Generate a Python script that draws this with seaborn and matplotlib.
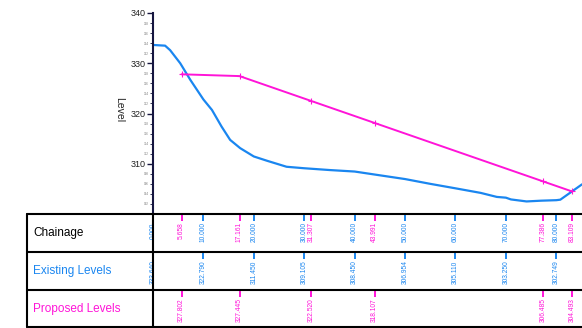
import numpy as np
import pandas as pd
import matplotlib
matplotlib.use("Agg")
import matplotlib.pyplot as plt
from matplotlib.lines import Line2D
import seaborn as sns

# Existing ground profile (chainage, level)
existing_chainage = [0, 2.4, 3.4, 5.4, 7.4, 10, 11.7, 13.6, 15.3, 17.3, 20, 22.6, 26.5,
                     30, 35, 40, 45, 50, 55, 60, 65, 68.2, 70, 71, 74.1, 77, 80, 80.8, 85.1]
existing_level = [333.64, 333.5, 332.6, 330.0, 326.7, 322.79, 320.7, 317.4, 314.75, 313.1,
                  311.45, 310.6, 309.4, 309.105, 308.75, 308.45, 307.7, 306.954, 306.0,
                  305.11, 304.2, 303.4, 303.25, 302.9, 302.5, 302.65, 302.749, 302.85, 305.9]

# Existing levels reported at the regular stations
station_chainage = [0, 10, 20, 30, 40, 50, 60, 70, 80]
station_level = [333.64, 322.79, 311.45, 309.105, 308.45, 306.954, 305.11, 303.25, 302.749]

# Proposed vertical alignment
proposed_chainage = [5.658, 17.161, 31.307, 43.991, 77.386, 83.109]
proposed_level = [327.802, 327.445, 322.520, 318.107, 306.485, 304.493]

row_titles = ["Chainage", "Existing Levels", "Proposed Levels"]

BLUE = "#1a86f0"
PINK = "#ff14d8"
DARK = "#15153f"

sns.set_style("white")
plt.rcParams["font.family"] = ["Liberation Sans", "DejaVu Sans"]

W, H = 582, 328
fig = plt.figure(figsize=(W / 100, H / 100), dpi=100)

def fx(px):
    return px / W

def fy(py):
    return 1 - py / H

XMAX = 85.1
x_left, y_top, y_bot = 153, 13, 214

ax = fig.add_axes([fx(x_left), fy(y_bot), 1 - fx(x_left), fy(y_top) - fy(y_bot)])
ex_df = pd.DataFrame({"chainage": existing_chainage, "level": existing_level})
pr_df = pd.DataFrame({"chainage": proposed_chainage, "level": proposed_level})
sns.lineplot(data=ex_df, x="chainage", y="level", ax=ax, color=BLUE, lw=1.6,
             sort=False, estimator=None)
sns.lineplot(data=pr_df, x="chainage", y="level", ax=ax, color=PINK, lw=1.4,
             sort=False, estimator=None, marker="+", markersize=5, markeredgewidth=0.8,
             markeredgecolor=PINK)
ax.set_xlim(0, XMAX)
ax.set_ylim(300, 340)
ax.set_xlabel("")
ax.set_ylabel("")
ax.set_xticks([])
ax.set_yticks([310, 320, 330, 340])
ax.set_yticks(np.arange(302, 340, 2), minor=True)
ax.set_yticklabels([str(v) for v in [310, 320, 330, 340]], fontsize=6.5, color="#222222")
ax.set_yticklabels([str(v) for v in np.arange(302, 340, 2)], minor=True, fontsize=2.2,
                   color="#777777")
ax.tick_params(axis="y", which="major", length=4, width=1, color=DARK, pad=1,
               left=True)
ax.tick_params(axis="y", which="minor", length=2, width=0.6, color=DARK, pad=1,
               left=True)
for s in ["top", "right", "bottom"]:
    ax.spines[s].set_visible(False)
ax.spines["left"].set_color(DARK)
ax.spines["left"].set_linewidth(1.5)
ax.patch.set_alpha(0)

fig.text(fx(119), fy(110), "Level", rotation=270, fontsize=7.5, ha="center", va="center",
         color="#222222")

# Table below the profile
tab = fig.add_axes([fx(x_left), 0, 1 - fx(x_left), fy(y_bot)])
tab.set_xlim(0, XMAX)
tab.set_ylim(3, 0)
tab.axis("off")

def row_entries(row, xs, texts, color):
    tab.vlines(xs, row, row + 0.18, color=color, lw=1.4)
    for x, t in zip(xs, texts):
        tab.text(x, row + 0.22, t, rotation=90, ha="center", va="top", fontsize=4.8,
                 color=color)

row_entries(0, station_chainage, [f"{c:.3f}" for c in station_chainage], BLUE)
row_entries(0, proposed_chainage, [f"{c:.3f}" for c in proposed_chainage], PINK)
row_entries(1, station_chainage, [f"{v:.3f}" for v in station_level], BLUE)
row_entries(2, proposed_chainage, [f"{v:.3f}" for v in proposed_level], PINK)

# Grid lines of the table
for py in [y_bot, y_bot + 38, y_bot + 76, H - 1]:
    fig.add_artist(Line2D([fx(27), 1], [fy(py), fy(py)], color="black", lw=1.5))
for px in [27, x_left]:
    fig.add_artist(Line2D([fx(px), fx(px)], [fy(y_bot), fy(H - 1)], color="black", lw=1.5))

for i, (title, col) in enumerate(zip(row_titles, ["black", BLUE, PINK])):
    fig.text(fx(33), fy(y_bot + 19 + 38 * i), title, fontsize=8.5, color=col,
             ha="left", va="center")

fig.savefig("out.png", dpi=100)
